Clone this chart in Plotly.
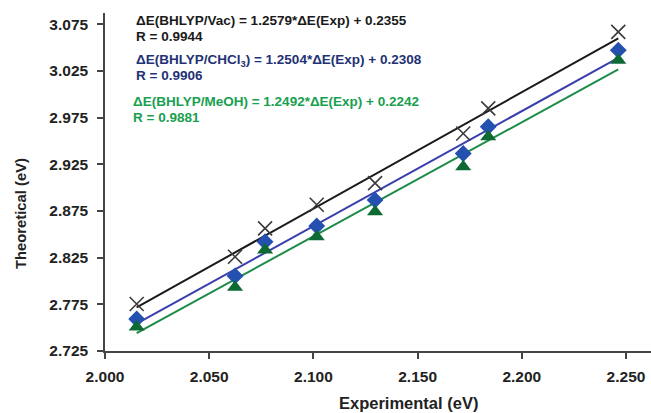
import numpy as np
import plotly.graph_objects as go

exp_ev = [2.0152, 2.0624, 2.0768, 2.1016, 2.1296, 2.1719, 2.1839, 2.2463]
vac = [2.7753, 2.8259, 2.8563, 2.8816, 2.9048, 2.9580, 2.9848, 3.0668]
chcl3 = [2.7593, 2.8053, 2.8420, 2.8588, 2.8866, 2.9366, 2.9651, 3.0472]
meoh = [2.7506, 2.7932, 2.8331, 2.8473, 2.8741, 2.9223, 2.9544, 3.0365]

x_ticks = [2.000, 2.050, 2.100, 2.150, 2.200, 2.250]
y_ticks = [2.725, 2.775, 2.825, 2.875, 2.925, 2.975, 3.025, 3.075]

eq_texts = [
    "ΔE(BHLYP/Vac) = 1.2579*ΔE(Exp) + 0.2355",
    "R = 0.9944",
    "ΔE(BHLYP/CHCl<sub>3</sub>) = 1.2504*ΔE(Exp) + 0.2308",
    "R = 0.9906",
    "ΔE(BHLYP/MeOH) = 1.2492*ΔE(Exp) + 0.2242",
    "R = 0.9881",
]

FONT = "Liberation Sans, Arial, sans-serif"

series = [
    (vac, "#1a1a1a", dict(symbol="x-thin", size=14, color="#444", line=dict(color="#3a3a3a", width=1.6))),
    (chcl3, "#3b3fae", dict(symbol="diamond", size=13, color="#2450b0")),
    (meoh, "#1c8c48", dict(symbol="triangle-up", size=14, color="#0d6a33")),
]

fig = go.Figure()
xs = np.array(exp_ev)
xfit = np.array([xs.min(), xs.max()])
for ys, lc, mk in series:
    k, b = np.polyfit(xs, np.array(ys), 1)
    fig.add_trace(go.Scatter(x=xfit, y=k * xfit + b, mode="lines",
                             line=dict(color=lc, width=2), showlegend=False, hoverinfo="skip"))
for ys, lc, mk in series:
    fig.add_trace(go.Scatter(x=exp_ev, y=ys, mode="markers", marker=mk, showlegend=False))

L, R, T, B = 105, 651, 13, 351
ann_cols = ["#1a1a1a", "#1a1a1a", "#1f3275", "#1f3275", "#19a050", "#19a050"]
ann_y = [20, 36, 60, 76, 101, 117]
ann_x = [134, 134, 134, 134, 131, 131]
annotations = []
for t, c, yy, xx in zip(eq_texts, ann_cols, ann_y, ann_x):
    annotations.append(dict(text=t, xref="paper", yref="paper",
                            x=(xx - L) / (R - L), y=(B - yy) / (B - T),
                            xanchor="left", yanchor="middle", showarrow=False,
                            font=dict(family=FONT, size=13.5, color=c, weight="bold")))
annotations.append(dict(text="Experimental (eV)", xref="paper", yref="paper",
                        x=(408 - L) / (R - L), y=(B - 403) / (B - T),
                        xanchor="center", yanchor="middle", showarrow=False,
                        font=dict(family=FONT, size=16.5, color="#222", weight="bold")))
annotations.append(dict(text="Theoretical (eV)", xref="paper", yref="paper",
                        x=(21 - L) / (R - L), y=(B - 214) / (B - T),
                        xanchor="center", yanchor="middle", showarrow=False, textangle=-90,
                        font=dict(family=FONT, size=14.8, color="#222", weight="bold")))

fig.update_layout(
    width=651, height=413,
    margin=dict(l=L, r=651 - R, t=T, b=413 - B),
    paper_bgcolor="white", plot_bgcolor="white",
    annotations=annotations,
    xaxis=dict(range=[2.0, 2.262], tickvals=x_ticks, ticktext=[f"{v:.3f}" for v in x_ticks],
               showgrid=False, zeroline=False, showline=True, linecolor="#444", linewidth=1.5,
               ticks="outside", ticklen=6, tickcolor="#444", tickwidth=1.5, automargin=False,
               ticklabelstandoff=5,
               tickfont=dict(family=FONT, size=15.5, color="#222", weight="bold")),
    yaxis=dict(range=[2.725, 3.087], tickvals=y_ticks, ticktext=[f"{v:.3f}" for v in y_ticks],
               showgrid=False, zeroline=False, showline=True, linecolor="#444", linewidth=1.5,
               ticks="outside", ticklen=6, tickcolor="#444", tickwidth=1.5, automargin=False,
               ticklabelstandoff=6,
               tickfont=dict(family=FONT, size=15.5, color="#222", weight="bold")),
)

fig.write_html("out.html", config={"displayModeBar": False},
               post_script="document.body.style.margin='0px';")
